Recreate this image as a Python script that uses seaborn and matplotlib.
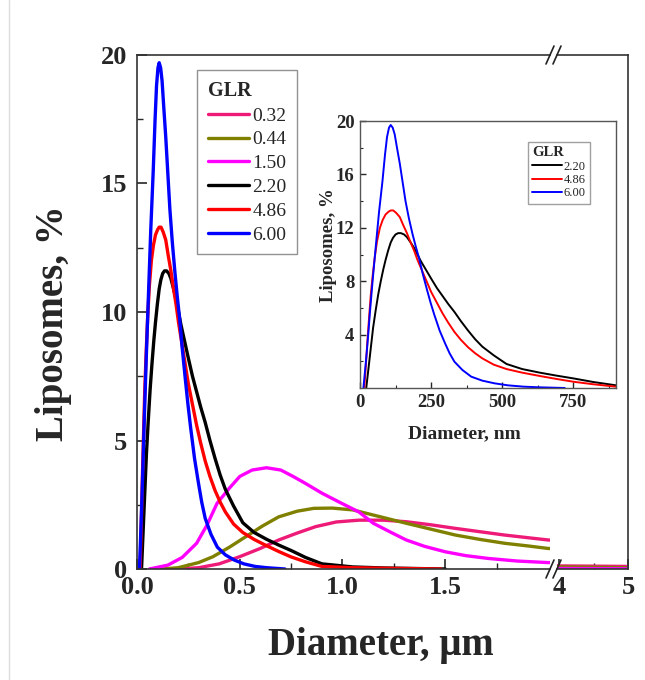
import numpy as np
import pandas as pd
import matplotlib
matplotlib.use("Agg")
import matplotlib.pyplot as plt
import seaborn as sns
from matplotlib.lines import Line2D

sns.set_style("ticks")
plt.rcParams['font.family'] = ['Liberation Serif', 'DejaVu Serif']

# ---------------- data ----------------
glr_labels = ["0.32", "0.44", "1.50", "2.20", "4.86", "6.00"]
colors = ["#EE1A78", "#808000", "#FF00FF", "#000000", "#FF0000", "#0000FF"]

# broad distributions (diameter in um)
x_032 = [0.20, 0.30, 0.40, 0.50, 0.60, 0.69, 0.78, 0.87, 0.97, 1.08, 1.20, 1.31, 1.43, 1.55, 1.67, 1.79, 1.90, 2.00, 4.00, 5.00]
y_032 = [0.00, 0.05, 0.20, 0.48, 0.80, 1.13, 1.40, 1.65, 1.83, 1.90, 1.90, 1.84, 1.72, 1.58, 1.45, 1.32, 1.22, 1.13, 0.12, 0.10]

x_044 = [0.12, 0.20, 0.30, 0.37, 0.45, 0.53, 0.61, 0.69, 0.78, 0.86, 0.95, 1.05, 1.15, 1.31, 1.43, 1.55, 1.67, 1.79, 1.90, 2.00, 4.00, 5.00]
y_044 = [0.00, 0.05, 0.25, 0.48, 0.85, 1.26, 1.67, 2.03, 2.25, 2.36, 2.37, 2.30, 2.10, 1.78, 1.55, 1.32, 1.15, 1.00, 0.90, 0.80, 0.08, 0.05]

x_150 = [0.06, 0.15, 0.22, 0.29, 0.34, 0.39, 0.45, 0.50, 0.56, 0.63, 0.70, 0.76, 0.82, 0.90, 0.985, 1.08, 1.15, 1.23, 1.31, 1.40, 1.50, 1.60, 1.71, 1.85, 2.00, 4.00, 5.00]
y_150 = [0.00, 0.15, 0.45, 1.00, 1.70, 2.56, 3.15, 3.60, 3.85, 3.94, 3.85, 3.60, 3.33, 2.95, 2.60, 2.22, 1.78, 1.45, 1.13, 0.88, 0.67, 0.52, 0.41, 0.31, 0.25, 0.02, 0.01]

# narrow distributions (diameter in nm)
x_220 = [22, 30, 38, 46, 55, 64, 73, 82, 90, 99, 108, 116, 125, 134, 144, 155, 165, 178, 190, 202, 214, 232, 250, 270, 290, 310, 332, 355, 380, 405, 430, 470, 515, 570, 632, 690, 750, 820, 900, 1050, 1200, 1500]
y_220 = [0.0, 1.5, 3.0, 4.5, 5.8, 7.0, 8.0, 8.9, 9.6, 10.3, 10.9, 11.25, 11.5, 11.6, 11.6, 11.5, 11.3, 10.9, 10.5, 10.0, 9.5, 8.85, 8.2, 7.5, 6.9, 6.3, 5.7, 5.0, 4.3, 3.65, 3.1, 2.45, 1.8, 1.42, 1.15, 0.93, 0.72, 0.45, 0.2, 0.08, 0.04, 0.0]

x_486 = [15, 20, 26, 32, 38, 45, 52, 60, 70, 80, 90, 100, 108, 117, 128, 140, 152, 165, 178, 190, 202, 214, 232, 250, 270, 290, 310, 332, 355, 380, 405, 430, 470, 515, 570, 632, 690, 750, 820, 900, 1050, 1200, 1480]
y_486 = [0.0, 1.5, 3.5, 5.3, 7.0, 8.5, 9.8, 11.0, 12.0, 12.6, 13.0, 13.2, 13.3, 13.3, 13.1, 12.8, 12.2, 11.6, 10.9, 10.3, 9.6, 9.0, 8.1, 7.2, 6.4, 5.6, 4.9, 4.2, 3.6, 3.05, 2.6, 2.22, 1.75, 1.42, 1.15, 0.9, 0.68, 0.47, 0.28, 0.1, 0.05, 0.03, 0.0]

x_600 = [12, 20, 25, 30, 35, 45, 55, 67, 79, 88, 95, 102, 108, 115, 122, 130, 140, 150, 160, 172, 185, 196, 208, 220, 235, 248, 261, 280, 300, 315, 332, 360, 391, 430, 473, 520, 575, 632, 720]
y_600 = [0.0, 1.8, 3.0, 4.3, 5.7, 8.2, 10.5, 13.2, 15.5, 17.5, 18.8, 19.5, 19.7, 19.5, 19.0, 18.0, 16.8, 15.4, 14.0, 12.7, 11.5, 10.6, 9.7, 8.6, 7.4, 6.4, 5.5, 4.3, 3.3, 2.6, 1.97, 1.35, 0.85, 0.55, 0.35, 0.2, 0.1, 0.05, 0.0]

main_x = [x_032, x_044, x_150,
          [v / 1000 for v in x_220], [v / 1000 for v in x_486], [v / 1000 for v in x_600]]
main_y = [y_032, y_044, y_150, y_220, y_486, y_600]

inset_idx = [3, 4, 5]
inset_x = [x_220, x_486, x_600]
inset_y = [y_220, y_486, y_600]

# ---------------- layout ----------------
W, H = 645, 680
fig = plt.figure(figsize=(W / 100, H / 100), dpi=100)

def box(l, t, r, b):
    return [l / W, (H - b) / H, (r - l) / W, (b - t) / H]

# faint page border line seen in the reference
fig.add_artist(Line2D([9 / W, 9 / W], [0, 1], color="#DDDDDD", lw=1.0))

ax1 = fig.add_axes(box(137, 55, 550, 569))
ax2 = fig.add_axes(box(557, 55, 628, 569))
axi = fig.add_axes(box(360, 121, 616, 388))

lw_main = 2.4
for xs, ys, c, lab in zip(main_x, main_y, colors, glr_labels):
    df = pd.DataFrame({"d": xs, "p": ys})
    for ax in (ax1, ax2):
        sns.lineplot(data=df, x="d", y="p", ax=ax, color=c, lw=lw_main,
                     sort=False, estimator=None, legend=False)

ax1.set_xlim(0, 2.01)
ax2.set_xlim(3.97, 5.0)
for ax in (ax1, ax2):
    ax.set_ylim(0, 20)
    ax.set_xlabel("")
    ax.set_ylabel("")
    for s in ax.spines.values():
        s.set_linewidth(1.2)
        s.set_color("#333333")

ax1.spines['right'].set_visible(False)
ax2.spines['left'].set_visible(False)
ax2.tick_params(axis='y', left=False, labelleft=False)

ax1.set_xticks([0.0, 0.5, 1.0, 1.5])
ax1.set_xticks([0.25, 0.75, 1.25, 1.75], minor=True)
ax1.set_xticklabels(["0.0", "0.5", "1.0", "1.5"])
ax1.set_yticks([0, 5, 10, 15, 20])
ax1.set_yticks([2.5, 7.5, 12.5, 17.5], minor=True)
ax2.set_xticks([4, 5])
ax2.set_xticks([4.5], minor=True)
ax2.set_xticklabels(["4", "5"])
ax2.set_yticks([])

for ax in (ax1, ax2):
    ax.tick_params(which='major', direction='in', length=7, width=1.2,
                   labelsize=19, pad=5)
    ax.tick_params(axis='y', pad=7)
    ax.tick_params(which='minor', direction='in', length=4, width=1.0)
    for lbl in ax.get_xticklabels() + ax.get_yticklabels():
        lbl.set_fontweight('bold')

# break marks
for xc in (550, 557):
    for yc in (569, 55):
        fig.add_artist(Line2D([(xc - 4) / W, (xc + 4) / W],
                              [(H - yc - 9) / H, (H - yc + 9) / H],
                              color="#222222", lw=1.2))

fig.text(53 / W, (H - 323) / H, "Liposomes, %", rotation=90, ha='center',
         va='center', fontsize=28, fontweight='bold')
fig.text(381 / W, (H - 645) / H, "Diameter, μm", ha='center', va='center',
         fontsize=28, fontweight='bold')

handles = [Line2D([], [], color=c, lw=2.4) for c in colors]
leg = ax1.legend(handles, glr_labels, title="GLR", loc='upper left',
                 bbox_to_anchor=((197 - 137) / 413, 1 - (70 - 55) / 514),
                 borderaxespad=0,
                 fontsize=14, title_fontsize=14.5, frameon=True, fancybox=False,
                 edgecolor="#777777", handlelength=2.1, handletextpad=0.2,
                 labelspacing=0.32, borderpad=0.55)
leg.get_title().set_fontweight('bold')
leg._legend_box.align = "left"
leg.get_frame().set_linewidth(1.0)

# ---------------- inset ----------------
for xs, ys, i in zip(inset_x, inset_y, inset_idx):
    df = pd.DataFrame({"d": xs, "p": ys})
    sns.lineplot(data=df, x="d", y="p", ax=axi, color=colors[i], lw=1.4,
                 sort=False, estimator=None, legend=False)
axi.set_xlim(0, 900)
axi.set_ylim(0, 20)
axi.set_xticks([0, 250, 500, 750])
axi.set_xticks([125, 375, 625, 875], minor=True)
axi.set_yticks([4, 8, 12, 16, 20])
axi.set_yticks([2, 6, 10, 14, 18], minor=True)
axi.tick_params(which='major', direction='in', length=4, width=1.0,
                labelsize=13.5, pad=4)
axi.tick_params(which='minor', direction='in', length=2.5, width=0.8)
for lbl in axi.get_xticklabels() + axi.get_yticklabels():
    lbl.set_fontweight('bold')
for s in axi.spines.values():
    s.set_linewidth(1.0)
    s.set_color("#555555")
axi.set_xlabel("Diameter, nm", fontsize=14, fontweight='bold')
axi.set_ylabel("Liposomes, %", fontsize=13.5, fontweight='bold')
axi.xaxis.set_label_coords((464 - 360) / 256, -(425 - 388) / 267)
axi.yaxis.set_label_coords(-(360 - 337) / 256, (388 - 245) / 267)

h2 = [Line2D([], [], color=colors[i], lw=1.4) for i in inset_idx]
leg2 = axi.legend(h2, [glr_labels[i] for i in inset_idx], title="GLR",
                  loc='upper left',
                  bbox_to_anchor=((528 - 360) / 256, 1 - (142 - 121) / 267),
                  borderaxespad=0,
                  fontsize=9, title_fontsize=10.5, frameon=True, fancybox=False,
                  edgecolor="#888888", handlelength=2.4, handletextpad=0.1,
                  labelspacing=0.1, borderpad=0.35)
leg2.get_title().set_fontweight('bold')
leg2._legend_box.align = "left"

fig.savefig("out.png", dpi=100)
